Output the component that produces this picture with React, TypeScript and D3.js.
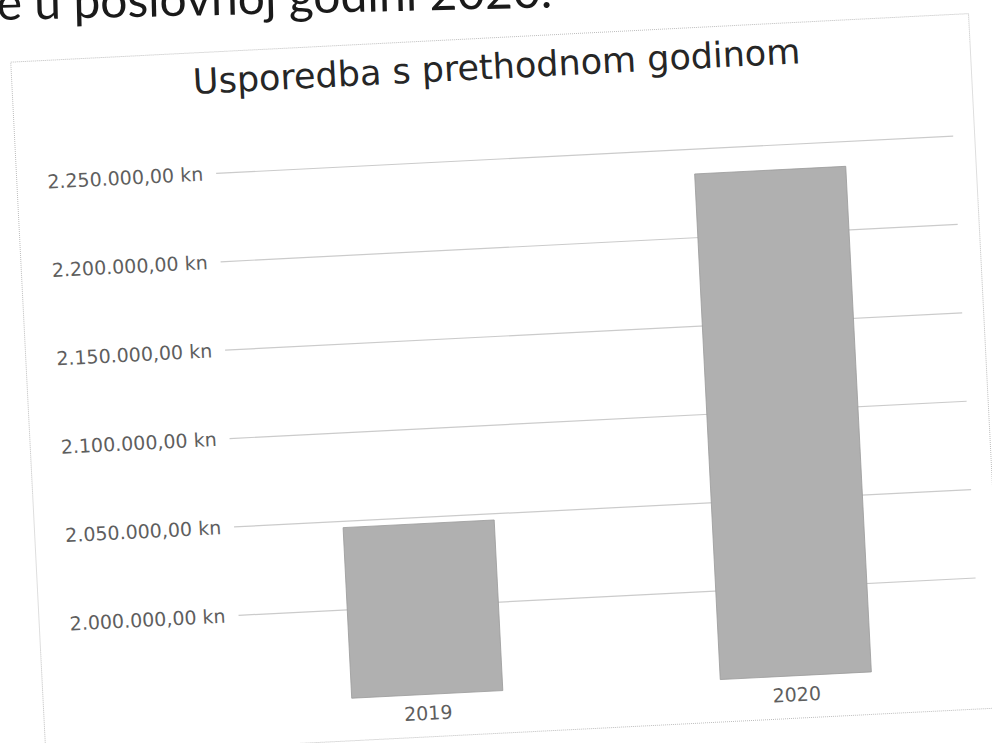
import React, { useEffect, useRef } from "react";
import * as d3 from "d3";

const years = ["2019", "2020"];
const amounts = [2046500, 2236000];
const tickValues = [2000000, 2050000, 2100000, 2150000, 2200000, 2250000];
const chartTitle = "Usporedba s prethodnom godinom";
const pageText = "e u poslovnoj godini 2020.";

const W = 992;
const H = 743;

const hr = d3.formatLocale({
  decimal: ",",
  thousands: ".",
  grouping: [3],
  currency: ["", " kn"],
});
const fmt = (v: number) => hr.format(",.2f")(v) + " kn";

const App = () => {
  const ref = useRef<SVGSVGElement | null>(null);

  useEffect(() => {
    if (!ref.current) return;
    const svg = d3.select(ref.current);
    svg.selectAll("*").remove();

    svg.append("rect").attr("width", W).attr("height", H).attr("fill", "#fff");

    // bit of the document text above the chart, cut off by the scan
    svg
      .append("text")
      .attr("transform", "rotate(-1.3, 0, 20)")
      .attr("x", -3)
      .attr("y", 20)
      .style("font-family", "Lato, 'Open Sans', sans-serif")
      .style("font-size", "48px")
      .style("fill", "#1a1a1a")
      .text(pageText);

    // the whole chart sits a bit crooked on the page
    const g = svg.append("g").attr("transform", "rotate(-2.9, 496, 371)");

    g.append("rect")
      .attr("x", 27)
      .attr("y", 38)
      .attr("width", 959)
      .attr("height", 695)
      .attr("fill", "none")
      .attr("stroke", "#bdbdbd")
      .attr("stroke-width", 1)
      .attr("stroke-dasharray", "1,1");

    g.append("text")
      .attr("x", 512)
      .attr("y", 79)
      .style("text-anchor", "middle")
      .style("font-family", "'DejaVu Sans', Verdana, sans-serif")
      .style("font-size", "35px")
      .style("fill", "#262626")
      .text(chartTitle);

    const x = d3
      .scaleBand()
      .domain(years)
      .range([226.5, 964.5])
      .paddingInner(0.59)
      .paddingOuter(0.295);

    const y = d3.scaleLinear().domain([1950000, 2250000]).range([690.5, 159.5]);

    const yAxis = d3
      .axisLeft(y)
      .tickValues(tickValues)
      .tickFormat((d) => fmt(d as number))
      .tickSize(0)
      .tickPadding(13);

    const ya = g
      .append("g")
      .attr("transform", `translate(226.5, 0)`)
      .call(yAxis);
    ya.select(".domain").remove();
    ya.selectAll("text")
      .style("font-family", "'DejaVu Sans', Verdana, sans-serif")
      .style("font-size", "19px")
      .style("fill", "#5e5e5e");

    g.append("g")
      .selectAll("line")
      .data(tickValues)
      .enter()
      .append("line")
      .attr("x1", 226.5)
      .attr("x2", 964.5)
      .attr("y1", (d) => y(d))
      .attr("y2", (d) => y(d))
      .attr("stroke", "#cbcbcb")
      .attr("stroke-width", 1.2);

    g.selectAll(".bar")
      .data(amounts)
      .enter()
      .append("rect")
      .attr("class", "bar")
      .attr("x", (d, i) => x(years[i]) as number)
      .attr("width", x.bandwidth())
      .attr("y", (d) => y(d))
      .attr("height", (d) => y(1950000) - y(d))
      .attr("fill", "#b0b0b0")
      .attr("stroke", "#9a9a9a")
      .attr("stroke-width", 0.8);

    const xAxis = d3.axisBottom(x).tickSize(0).tickPadding(12);
    const xa = g
      .append("g")
      .attr("transform", `translate(0, ${y(1950000)})`)
      .call(xAxis);
    xa.select(".domain").remove();
    xa.selectAll("text")
      .style("font-family", "'DejaVu Sans', Verdana, sans-serif")
      .style("font-size", "19px")
      .style("fill", "#5e5e5e");
  }, []);

  return (
    <svg
      ref={ref}
      width={W}
      height={H}
      style={{ position: "absolute", left: 0, top: 0, display: "block" }}
    />
  );
};

export default App;
